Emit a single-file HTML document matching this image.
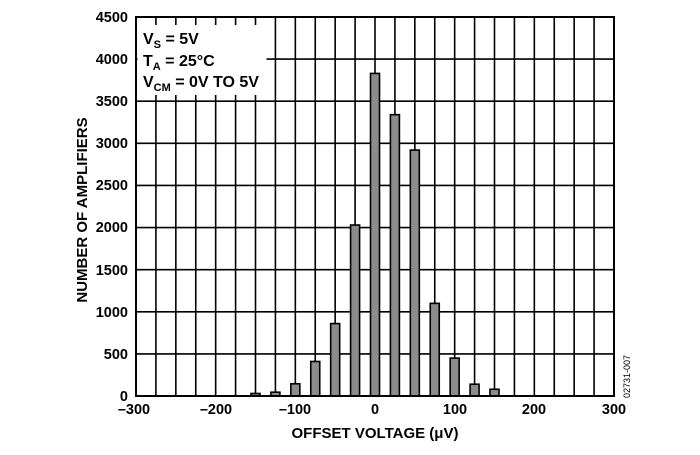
<!DOCTYPE html>
<html><head><meta charset="utf-8"><style>
body{margin:0;background:#fff}
svg text{font-family:"Liberation Sans",Arial,sans-serif;font-weight:bold;fill:#000}
</style></head><body>
<svg width="700" height="450" viewBox="0 0 700 450" xmlns="http://www.w3.org/2000/svg">
<g stroke="#000" stroke-width="1.6" fill="none" id="grid"></g>
<script>
(function(){
var g=document.getElementById('grid'),ns='http://www.w3.org/2000/svg';
function L(x1,y1,x2,y2){var l=document.createElementNS(ns,'line');l.setAttribute('x1',x1);l.setAttribute('y1',y1);l.setAttribute('x2',x2);l.setAttribute('y2',y2);g.appendChild(l);}
var x0=136,x1=614,y0=396,y1=17;
for(var i=1;i<24;i++){var x=x0+(x1-x0)*i/24;L(x,y1,x,y0);}
for(var j=1;j<9;j++){var y=y0-(y0-y1)*j/9;L(x0,y,x1,y);}
})();
</script>
<rect x="137.5" y="25" width="129" height="70" fill="#fff"/>
<g fill="#8c8c8c" stroke="#000" stroke-width="1.6" id="bars"></g>
<script>
(function(){
var g=document.getElementById('bars'),ns='http://www.w3.org/2000/svg';
var d=[[-150,30],[-125,45],[-100,145],[-75,410],[-50,860],[-25,2030],[0,3830],[25,3340],[50,2920],[75,1100],[100,450],[125,140],[150,80]];
d.forEach(function(p){var cx=136+(p[0]+300)*478/600;var h=p[1]*379/4500;
var r=document.createElementNS(ns,'rect');r.setAttribute('x',cx-4.5);r.setAttribute('y',396-h);r.setAttribute('width',9);r.setAttribute('height',h);g.appendChild(r);});
})();
</script>
<rect x="136" y="17" width="478" height="379" fill="none" stroke="#000" stroke-width="2"/>
<g font-size="14.5" text-anchor="end">
<text x="128" y="22">4500</text><text x="128" y="64">4000</text><text x="128" y="106">3500</text>
<text x="128" y="148">3000</text><text x="128" y="190">2500</text><text x="128" y="232">2000</text>
<text x="128" y="275">1500</text><text x="128" y="317">1000</text><text x="128" y="359">500</text>
<text x="128" y="401">0</text>
</g>
<g font-size="14.5" text-anchor="middle">
<text x="134" y="414">–300</text><text x="216" y="414">–200</text><text x="295" y="414">–100</text>
<text x="375" y="414">0</text><text x="455" y="414">100</text><text x="534" y="414">200</text><text x="614" y="414">300</text>
</g>
<text x="375" y="438" font-size="15" text-anchor="middle">OFFSET VOLTAGE (μV)</text>
<text transform="translate(87,210) rotate(-90)" font-size="15" text-anchor="middle">NUMBER OF AMPLIFIERS</text>
<g font-size="16">
<text x="143" y="44">V<tspan font-size="11" dy="4">S</tspan><tspan dy="-4"> = 5V</tspan></text>
<text x="143" y="66">T<tspan font-size="11" dy="4">A</tspan><tspan dy="-4"> = 25°C</tspan></text>
<text x="143" y="87">V<tspan font-size="11" dy="4">CM</tspan><tspan dy="-4"> = 0V TO 5V</tspan></text>
</g>
<text transform="translate(630,398) rotate(-90)" font-size="9" style="font-weight:normal">02731-007</text>
</svg>
</body></html>
